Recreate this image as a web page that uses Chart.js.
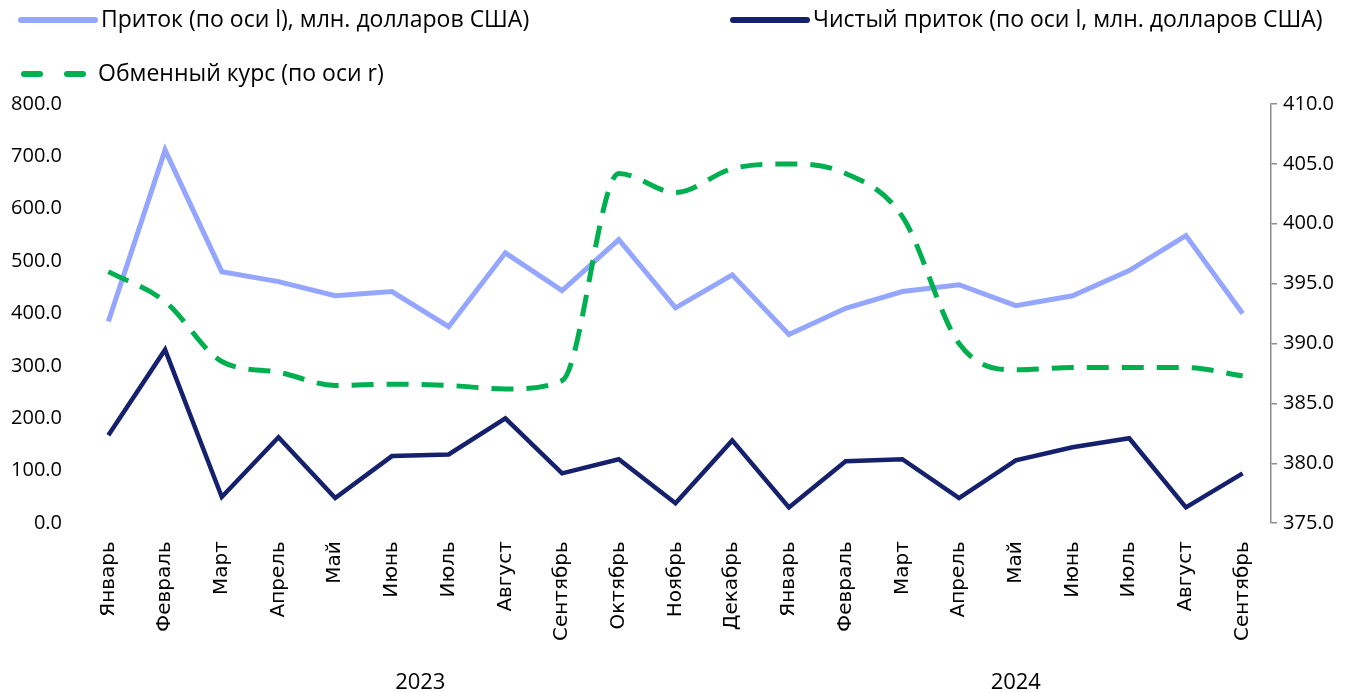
<!DOCTYPE html>
<html>
<head>
<meta charset="utf-8">
<script src="https://cdn.jsdelivr.net/npm/chart.js@4/dist/chart.umd.min.js"></script>
<style>
	html, body { margin: 0; padding: 0; background: #fff; }
	#wrap { position: relative; width: 1348px; height: 692px; }
	.leg { position: absolute; font-family: "Open Sans", sans-serif; font-size: 23px; color: #000; white-space: nowrap; line-height: 30px; }
	.leg i { display: inline-block; width: 80px; height: 0; vertical-align: middle; margin-right: 3px; position: relative; top: -1px; }
	.leg b { display: inline-block; width: 22px; height: 6px; border-radius: 3px; background: #00B050; vertical-align: middle; position: relative; top: -1px; }
</style>
</head>
<body>
<div id="wrap">
	<canvas id="chart" width="1348" height="692"></canvas>
	<div class="leg" style="left:18px; top:3px;"><i style="border-top:6px solid #94A6FF; border-radius:3px;"></i>Приток (по оси l), млн. долларов США)</div>
	<div class="leg" style="left:730px; top:3px;"><i style="border-top:6px solid #16216E; border-radius:3px;"></i>Чистый приток (по оси l, млн. долларов США)</div>
	<div class="leg" style="left:21px; top:57px;"><b></b><b style="margin-left:21px; margin-right:12px;"></b>Обменный курс (по оси r)</div>
</div>
<script>
// months Jan 2023 .. Sep 2024
var months = ["Январь", "Февраль", "Март", "Апрель", "Май", "Июнь", "Июль", "Август", "Сентябрь", "Октябрь", "Ноябрь", "Декабрь",
	"Январь", "Февраль", "Март", "Апрель", "Май", "Июнь", "Июль", "Август", "Сентябрь"];
var years = ["2023", "2024"];
var yearSpans = [12, 9];

// inflow, mln USD (left axis)
var inflow = [385, 712, 480, 461, 434, 442, 375, 516, 444, 541, 411, 474,
	360, 410, 442, 455, 415, 434, 482, 549, 400];
// net inflow, mln USD (left axis)
var netInflow = [168, 331, 50, 164, 48, 128, 131, 200, 95, 122, 38, 158,
	30, 118, 122, 48, 120, 145, 162, 30, 95];
// exchange rate (right axis)
var rate = [396.0, 393.5, 388.5, 387.6, 386.5, 386.6, 386.5, 386.2, 386.9, 404.2, 402.6, 404.6,
	405.0, 404.2, 400.6, 390.0, 387.8, 388.0, 388.0, 388.0, 387.3];

var tickFont = { family: "'Open Sans', sans-serif", size: 20 };

// year labels under the month labels
var yearLabels = {
	id: "yearLabels",
	afterDraw: function (chart) {
		var ctx = chart.ctx;
		var x = chart.scales.x;
		var start = 0;
		ctx.save();
		ctx.font = "22px 'Open Sans', sans-serif";
		ctx.fillStyle = "#000";
		ctx.textAlign = "center";
		ctx.textBaseline = "middle";
		for (var i = 0; i < years.length; i++) {
			var mid = start + (yearSpans[i] - 1) / 2;
			ctx.fillText(years[i], x.getPixelForValue(mid), 683);
			start += yearSpans[i];
		}
		ctx.restore();
	}
};

new Chart(document.getElementById("chart"), {
	type: "line",
	data: {
		labels: months,
		datasets: [
			{
				label: "Обменный курс (по оси r)",
				data: rate,
				yAxisID: "y1",
				borderColor: "#00B050",
				borderWidth: 5,
				borderDash: [22, 13],
				pointRadius: 0,
				cubicInterpolationMode: "monotone",
				fill: false
			},
			{
				label: "Приток (по оси l), млн. долларов США)",
				data: inflow,
				yAxisID: "y",
				borderColor: "#94A6FF",
				borderWidth: 5,
				pointRadius: 0,
				tension: 0,
				fill: false
			},
			{
				label: "Чистый приток (по оси l, млн. долларов США)",
				data: netInflow,
				yAxisID: "y",
				borderColor: "#16216E",
				borderWidth: 4.5,
				pointRadius: 0,
				tension: 0,
				fill: false
			}
		]
	},
	options: {
		responsive: false,
		animation: false,
		layout: { padding: { top: 104, left: 10, right: 8, bottom: 33 } },
		plugins: {
			legend: { display: false },
			tooltip: { enabled: false }
		},
		scales: {
			x: {
				offset: true,
				grid: { display: false, drawTicks: false },
				border: { display: false },
				afterFit: function (scale) {
					scale.paddingLeft = 0;
					scale.paddingRight = 0;
				},
				ticks: {
					color: "#000",
					font: { family: "'DejaVu Sans', sans-serif", size: 20 },
					maxRotation: 90,
					minRotation: 90,
					padding: 18,
					autoSkip: false
				}
			},
			y: {
				position: "left",
				min: 0,
				max: 800,
				grid: { display: false, drawTicks: false },
				border: { display: false },
				// fixed width so the plot starts where the original does
				afterFit: function (scale) {
					scale.width = 70;
				},
				ticks: {
					stepSize: 100,
					color: "#000",
					font: tickFont,
					padding: 18,
					callback: function (v) { return v.toFixed(1); }
				}
			},
			y1: {
				position: "right",
				min: 375,
				max: 410,
				grid: { display: true, drawOnChartArea: false, drawTicks: true, tickLength: 6, color: "#8c8c8c", lineWidth: 1.5 },
				border: { display: true, color: "#8c8c8c", width: 1.5 },
				ticks: {
					stepSize: 5,
					color: "#000",
					font: tickFont,
					padding: 6,
					callback: function (v) { return v.toFixed(1); }
				}
			}
		}
	},
	plugins: [yearLabels]
});
</script>
</body>
</html>
